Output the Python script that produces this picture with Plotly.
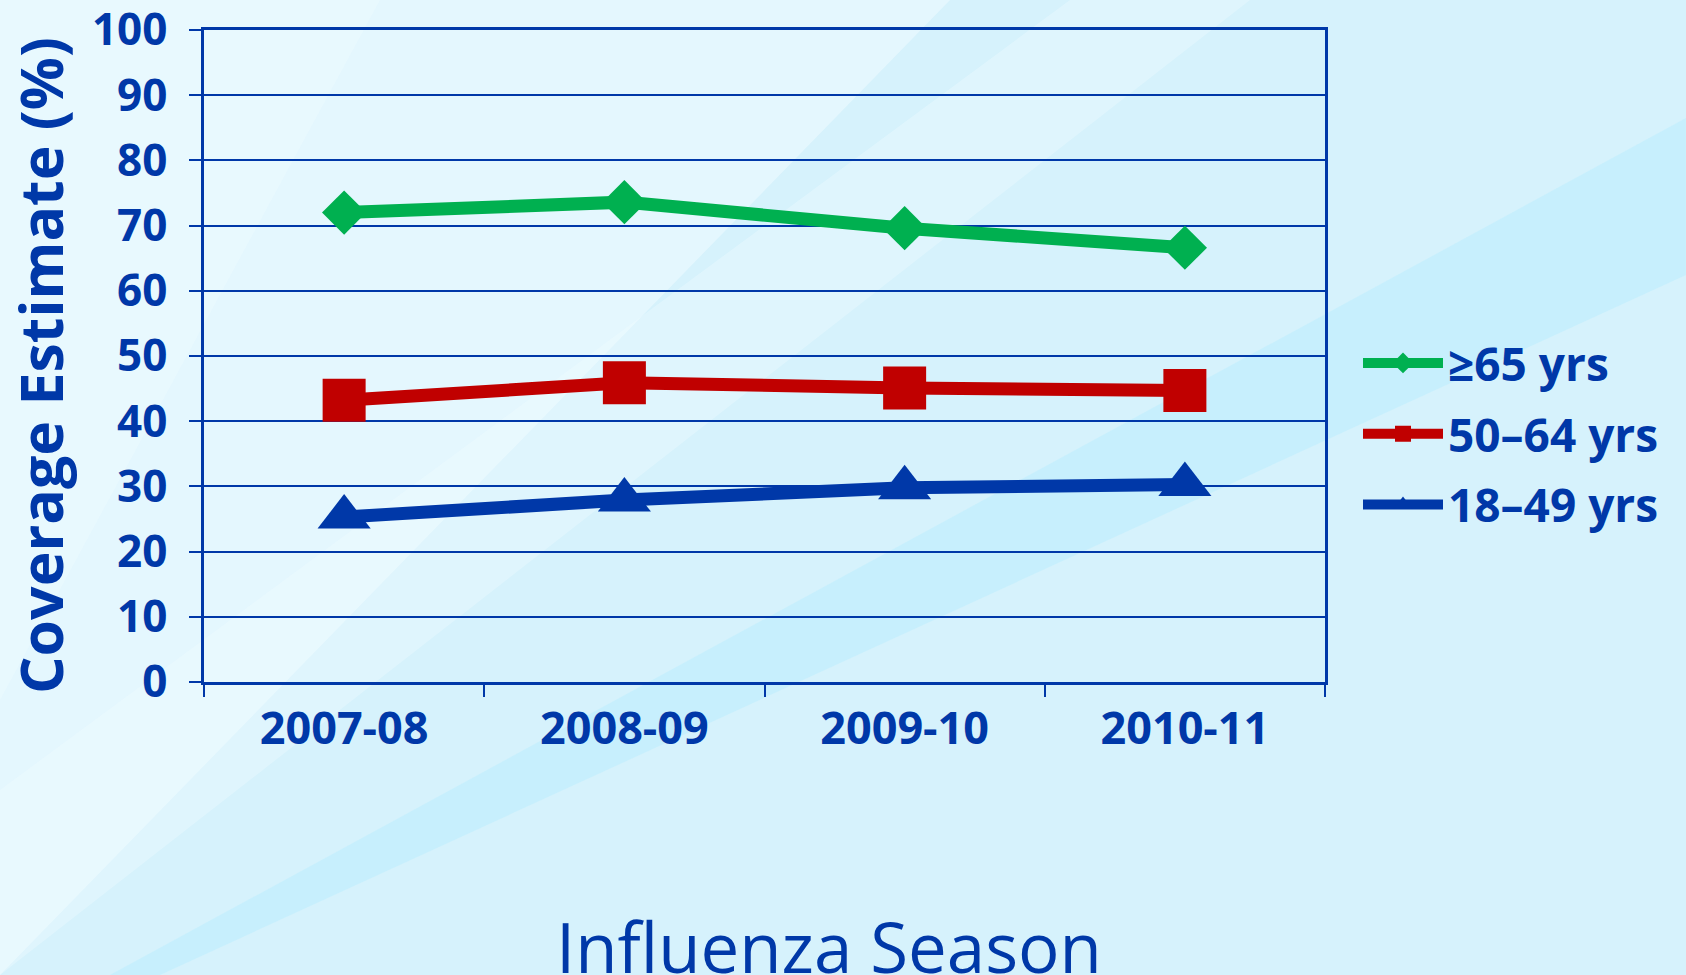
import plotly.graph_objects as go

seasons = ["2007-08", "2008-09", "2009-10", "2010-11"]
age_65_plus = [72.0, 73.6, 69.6, 66.6]
age_50_64 = [43.2, 45.9, 45.1, 44.7]
age_18_49 = [25.3, 27.9, 29.8, 30.3]
series_names = ["\u226565 yrs", "50\u201364 yrs", "18\u201349 yrs"]
y_ticks = [0, 10, 20, 30, 40, 50, 60, 70, 80, 90, 100]

BLUE = "#0038A8"
GREEN = "#00B050"
RED = "#C00000"
FONT = "Open Sans"

fig = go.Figure()
styles = [
    (age_65_plus, series_names[0], GREEN, "diamond", 34),
    (age_50_64, series_names[1], RED, "square", 43),
    (age_18_49, series_names[2], BLUE, "triangle-up", 46),
]
for i, (vals, name, col, sym, sz) in enumerate(styles):
    fig.add_trace(go.Scatter(
        x=seasons, y=vals, name=name, mode="lines+markers",
        line=dict(color=col, width=13),
        marker=dict(color=col, symbol=sym, size=sz),
        legendgroup=f"g{i}",
    ))

# page geometry: plot area from x=204..1325, y=30..682 (pixels)
W, H = 1686, 975
L, R, T, B = 204, 1325, 30, 682

def px(X):
    return (X - L) / (R - L)

def py(Y):
    return (B - Y) / (B - T)

def poly(points):
    return "M " + " L ".join(f"{px(x):.4f},{py(y):.4f}" for x, y in points) + " Z"

# decorative background streaks (page pixel polygons)
bg_shapes = [
    ([(1686, 118), (1686, 275), (160, 975), (110, 975)], "rgba(196,238,253,0.85)"),
    ([(0, 0), (950, 0), (0, 975)], "rgba(240,251,255,0.55)"),
    ([(1070, 0), (1250, 0), (0, 975), (0, 790)], "rgba(240,251,255,0.35)"),
    ([(0, 0), (380, 0), (0, 700)], "rgba(240,251,255,0.35)"),
]
shapes = [dict(type="path", xref="paper", yref="paper", path=poly(pts),
               fillcolor=col, line=dict(width=0), layer="below")
          for pts, col in bg_shapes]

fig.update_layout(
    width=W, height=H,
    margin=dict(l=L, r=W - R, t=T, b=H - B, autoexpand=False),
    paper_bgcolor="#D6F2FC",
    plot_bgcolor="rgba(0,0,0,0)",
    shapes=shapes,
    font=dict(family=FONT, color=BLUE),
    showlegend=True,
    legend=dict(
        x=px(1358), y=py(434), xanchor="left", yanchor="middle",
        bgcolor="rgba(0,0,0,0)",
        font=dict(family=FONT, size=46, color=BLUE, weight="bold"),
        itemwidth=80, tracegroupgap=8,
    ),
    xaxis=dict(
        type="category", range=[-0.5, 3.5],
        showgrid=False, zeroline=False,
        showline=True, linecolor=BLUE, linewidth=2.5, mirror=True,
        ticks="outside", ticklen=12, tickwidth=2, tickcolor=BLUE,
        tickson="boundaries", ticklabelstandoff=5,
        tickfont=dict(family=FONT, size=45, color=BLUE, weight="bold"),
    ),
    yaxis=dict(
        range=[0, 100], tickvals=y_ticks,
        showgrid=True, gridcolor=BLUE, gridwidth=2, zeroline=False,
        showline=True, linecolor=BLUE, linewidth=2.5, mirror=True,
        ticks="outside", ticklen=12, tickwidth=2, tickcolor=BLUE,
        ticklabelstandoff=13, ticklabeloverflow="allow",
        tickfont=dict(family=FONT, size=44, color=BLUE, weight="bold"),
    ),
    annotations=[
        dict(
            text="Influenza Season", xref="paper", yref="paper",
            x=px(829), y=py(946), xanchor="center", yanchor="middle",
            showarrow=False,
            font=dict(family=FONT, size=69, color=BLUE),
        ),
        dict(
            text="Coverage Estimate (%)", xref="paper", yref="paper",
            x=px(40), y=py(366), xanchor="center", yanchor="middle",
            textangle=-90, showarrow=False,
            font=dict(family=FONT, size=59, color=BLUE, weight="bold"),
        ),
    ],
)

fig.write_html("out.html", config={"displayModeBar": False},
               post_script="document.body.style.margin='0';")
